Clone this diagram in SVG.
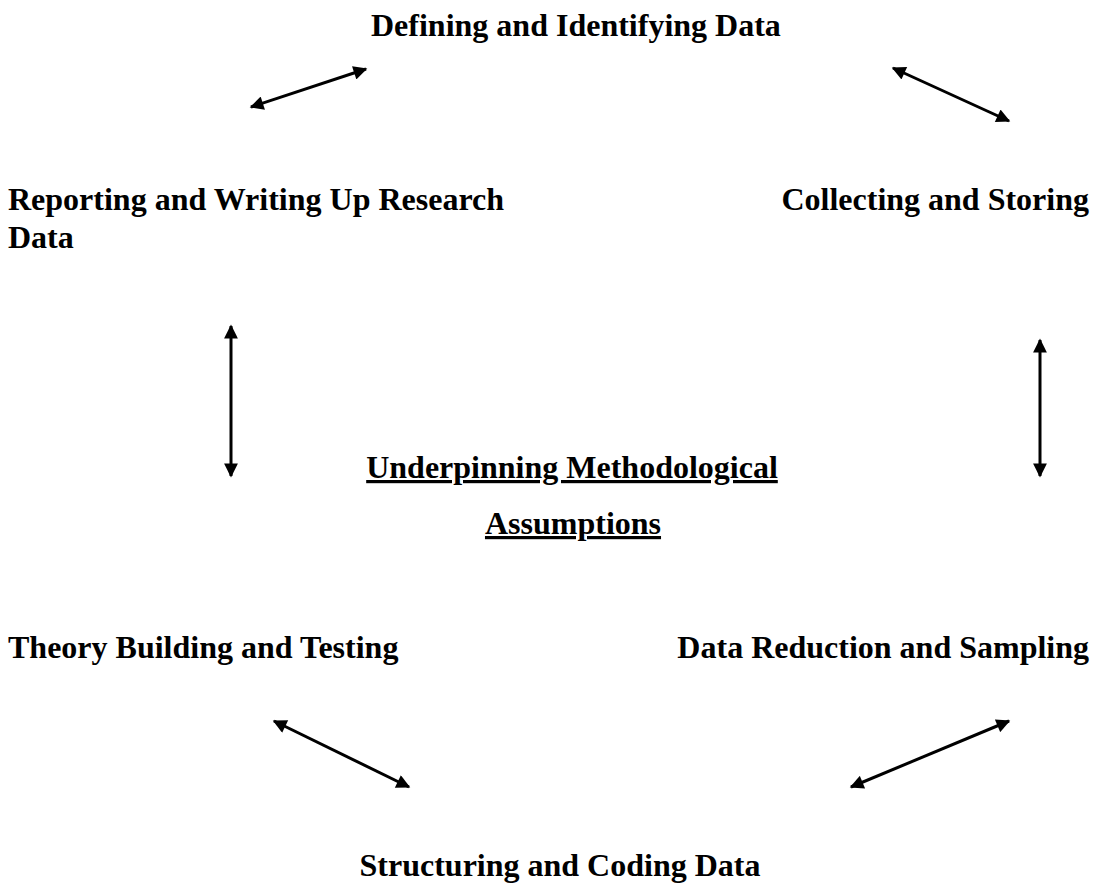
<svg xmlns="http://www.w3.org/2000/svg" width="1102" height="894" viewBox="0 0 1102 894">
<style>
.t{font-family:"Liberation Serif","Times New Roman",serif;font-weight:bold;font-size:32px;fill:#000}
.r{text-anchor:end}
.m{text-anchor:middle}
.c{stroke:#000;stroke-width:3;fill:none;marker-start:url(#ah);marker-end:url(#ah)}
</style>
<defs>
<marker id="ah" viewBox="0 0 10 10" refX="9" refY="5" markerWidth="5" markerHeight="4.6" orient="auto-start-reverse" markerUnits="strokeWidth">
<path d="M0,0 L10,5 L0,10 Z" fill="#000"/>
</marker>
</defs>
<rect width="1102" height="894" fill="#fff"/>
<g id="n-define"><text class="t" x="371" y="36">Defining and Identifying Data</text></g>
<g id="n-report"><text class="t" x="8" y="210">Reporting and Writing Up Research</text><text class="t" x="8" y="248">Data</text></g>
<g id="n-collect"><text class="t r" x="1089" y="210">Collecting and Storing</text></g>
<g id="n-center"><text class="t m" x="572" y="478" text-decoration="underline">Underpinning Methodological</text><text class="t m" x="573" y="534" text-decoration="underline">Assumptions</text></g>
<g id="n-theory"><text class="t" x="8" y="658">Theory Building and Testing</text></g>
<g id="n-reduce"><text class="t r" x="1089" y="658">Data Reduction and Sampling</text></g>
<g id="n-struct"><text class="t m" x="560" y="876">Structuring and Coding Data</text></g>
<g id="connectors">
<line class="c" x1="251" y1="107" x2="366" y2="69"/>
<line class="c" x1="893" y1="68" x2="1009" y2="121"/>
<line class="c" x1="231" y1="326" x2="231" y2="476"/>
<line class="c" x1="1040" y1="340" x2="1040" y2="476"/>
<line class="c" x1="274" y1="721" x2="409" y2="787"/>
<line class="c" x1="1009" y1="721" x2="851" y2="787"/>
</g>
</svg>
